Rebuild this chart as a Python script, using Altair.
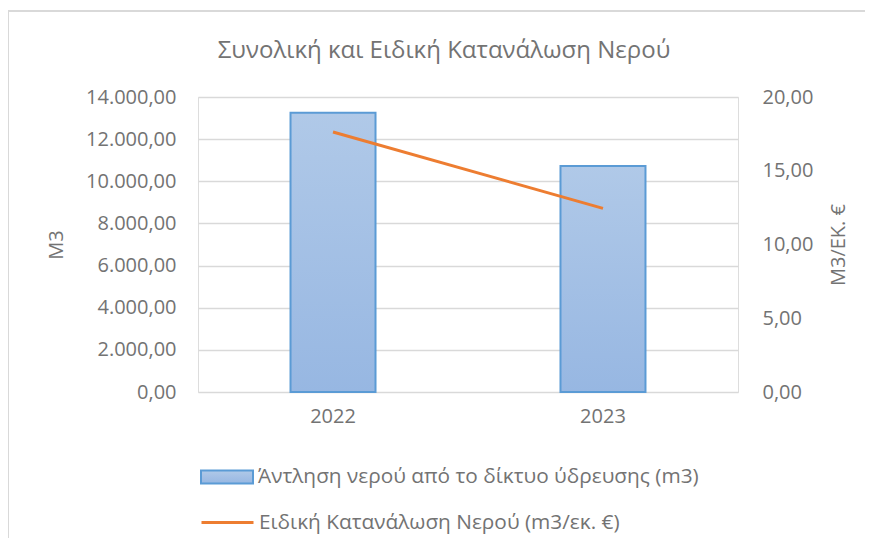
import altair as alt
import pandas as pd

years = ["2022", "2023"]
water_m3 = [13250, 10730]
specific = [17.63, 12.45]
bar_name = "Άντληση νερού από το δίκτυο ύδρευσης (m3)"
line_name = "Ειδική Κατανάλωση Νερού (m3/εκ. €)"
title_text = "Συνολική και Ειδική Κατανάλωση Νερού"
left_title = "M3"
right_title = "M3/ΕΚ. €"

df = pd.DataFrame({"year": years, "water": water_m3, "spec": specific,
                   "s1": [bar_name] * 2, "s2": [line_name] * 2})

FONT = "Open Sans"
GRAY = "#737373"

xenc = alt.X("year:N", title=None, bandPosition=0.5,
             scale=alt.Scale(paddingInner=0.685, paddingOuter=0.3426),
             axis=alt.Axis(labelAngle=0, labelFontSize=20, labelColor=GRAY, labelFont=FONT,
                           domain=False, ticks=False, labelPadding=14, grid=False))

bars = alt.Chart(df).mark_bar(
    size=85, strokeWidth=2,
    fill=alt.Gradient(gradient="linear", x1=0, y1=0, x2=0, y2=1,
                      stops=[alt.GradientStop(color="#b0c9e8", offset=0),
                             alt.GradientStop(color="#97b7e2", offset=1)]),
).encode(
    x=alt.X("year:N", title=None,
            scale=alt.Scale(paddingInner=0.685, paddingOuter=0.3426),
            axis=alt.Axis(labelAngle=0, labelFontSize=20, labelColor=GRAY, labelFont=FONT,
                          domain=False, ticks=False, labelPadding=14, grid=False)),
    y=alt.Y("water:Q", title=left_title,
            scale=alt.Scale(domain=[0, 14000]),
            axis=alt.Axis(values=[0, 2000, 4000, 6000, 8000, 10000, 12000, 14000],
                          labelExpr="replace(replace(replace(format(datum.value, ',.2f'), ',', 'T'), '.', ','), 'T', '.')",
                          labelFontSize=20, labelColor=GRAY, labelFont=FONT, labelPadding=22,
                          domain=False, ticks=False, gridColor="#d9d9d9", gridWidth=1.3,
                          titleFontSize=20, titleColor=GRAY, titleFont=FONT, titleFontWeight="normal",
                          titlePadding=19)),
    stroke=alt.Stroke("s1:N", scale=alt.Scale(range=["#5b9bd5"]),
                      legend=alt.Legend(title=None, orient="none", legendX=2, legendY=353,
                                        padding=0, symbolType="M-1,-0.25H1V0.25H-1Z",
                                        symbolSize=2704, symbolFillColor="#a9c4e6",
                                        symbolStrokeWidth=2, symbolOpacity=1,
                                        labelFontSize=20.8, labelColor=GRAY, labelFont=FONT,
                                        labelOffset=4, labelLimit=600)),
)

line = alt.Chart(df).mark_line(strokeWidth=3).encode(
    x=xenc,
    y=alt.Y("spec:Q", title=right_title,
            scale=alt.Scale(domain=[0, 20]),
            axis=alt.Axis(orient="right", values=[0, 5, 10, 15, 20],
                          labelExpr="replace(format(datum.value, '.2f'), '.', ',')",
                          labelFontSize=20, labelColor=GRAY, labelFont=FONT, labelPadding=24,
                          domain=False, ticks=False, grid=False,
                          titleFontSize=20, titleColor=GRAY, titleFont=FONT, titleFontWeight="normal",
                          titleAngle=270, titleBaseline="top", titlePadding=16)),
    color=alt.Color("s2:N", scale=alt.Scale(range=["#ed7d31"]),
                    legend=alt.Legend(title=None, orient="none", legendX=2, legendY=398,
                                      padding=0, symbolType="stroke", symbolSize=2704,
                                      symbolStrokeWidth=3,
                                      labelFontSize=20.8, labelColor=GRAY, labelFont=FONT,
                                      labelOffset=4, labelLimit=600)),
)

border_df = pd.DataFrame({"k": [0]})
border_top = alt.Chart(border_df).mark_rect(color="#d9d9d9", clip=False).encode(
    x=alt.value(-191), x2=alt.value(700), y=alt.value(-87), y2=alt.value(-85))
border_left = alt.Chart(border_df).mark_rect(color="#d9d9d9", clip=False).encode(
    x=alt.value(-191), x2=alt.value(-189), y=alt.value(-87), y2=alt.value(460))

chart = alt.layer(border_top, border_left, bars, line).resolve_scale(
    y="independent", stroke="independent", color="independent"
).properties(
    width=540, height=295,
    title=alt.TitleParams(title_text, fontSize=24, color=GRAY, font=FONT, fontWeight="normal",
                          anchor="middle", dx=-24, offset=0, dy=53),
    autosize=alt.AutoSizeParams(type="none"),
    padding={"left": 190, "top": 89, "right": 127, "bottom": 146},
).configure_view(stroke=None).configure(background="white")

chart.save("out.html", embed_options={"renderer": "svg", "actions": False})
